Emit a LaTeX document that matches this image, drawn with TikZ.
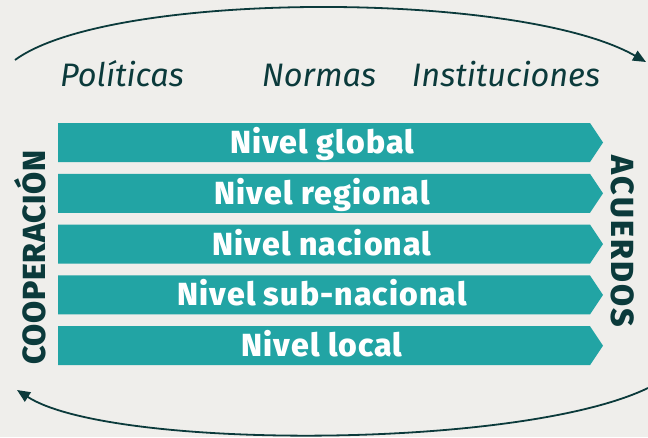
\documentclass[tikz,border=0pt]{standalone}
\usepackage{fontspec}
\setmainfont{Fira Sans}
\newfontfamily\heavy{Fira Sans ExtraBold}[LetterSpace=3.5]
\newfontfamily\heavyA{Fira Sans ExtraBold}[LetterSpace=2]
\newfontfamily\heavyB{Fira Sans ExtraBold}[LetterSpace=7]
\usetikzlibrary{arrows.meta}
\definecolor{bg}{HTML}{EFEEEB}
\definecolor{teal}{HTML}{22A4A4}
\definecolor{dark}{HTML}{0B3A3B}
\tikzset{
  lvl/.style={fill=teal, draw=none},
  lvltext/.style={text=white, font=\heavy\fontsize{32}{32}\selectfont, inner sep=0pt, anchor=base},
  ital/.style={text=dark, font=\itshape\fontsize{32.5}{32.5}\selectfont, inner sep=0pt, anchor=base},
  side/.style={text=dark, inner sep=0pt},
  arc/.style={draw=dark, line width=1.8pt, -{Triangle[length=13pt,width=11pt]}}
}
\begin{document}
\begin{tikzpicture}[x=1pt,y=-1pt]
\useasboundingbox[fill=bg] (0,0) rectangle (648,437);
% bars
\foreach \i/\c/\t in {1/142.5/Nivel global,2/193.3/Nivel regional,3/244.1/Nivel nacional,4/294.9/Nivel sub-nacional,5/345.7/Nivel local}{
  \fill[lvl] (58,\c-19.5) -- (590,\c-19.5) -- (603,\c) -- (590,\c+19.5) -- (58,\c+19.5) -- cycle;
  \node[lvltext] (b\i) at (322,\c+11) {\t};
}
% italic labels
\node[ital] (pol) at (122,86) {Políticas};
\node[ital] (nor) at (319,86) {Normas};
\node[ital] (ins) at (506,86) {Instituciones};
% side labels
\node[side, rotate=90, font=\heavyA\fontsize{32}{32}\selectfont] (coop) at (30,257.5) {COOPERACIÓN};
\node[side, rotate=-90, font=\heavyB\fontsize{32}{32}\selectfont] (acu) at (623,241.5) {ACUERDOS};
% arcs
\coordinate (t1) at (15,60);
\coordinate (t2) at (646,62);
\coordinate (u1) at (648,388);
\coordinate (u2) at (17,390);
\draw[arc] (t1) .. controls (110,-10) and (520,-10) .. (t2);
\draw[arc] (u1) .. controls (520,450) and (110,450) .. (u2);
\end{tikzpicture}
\end{document}
